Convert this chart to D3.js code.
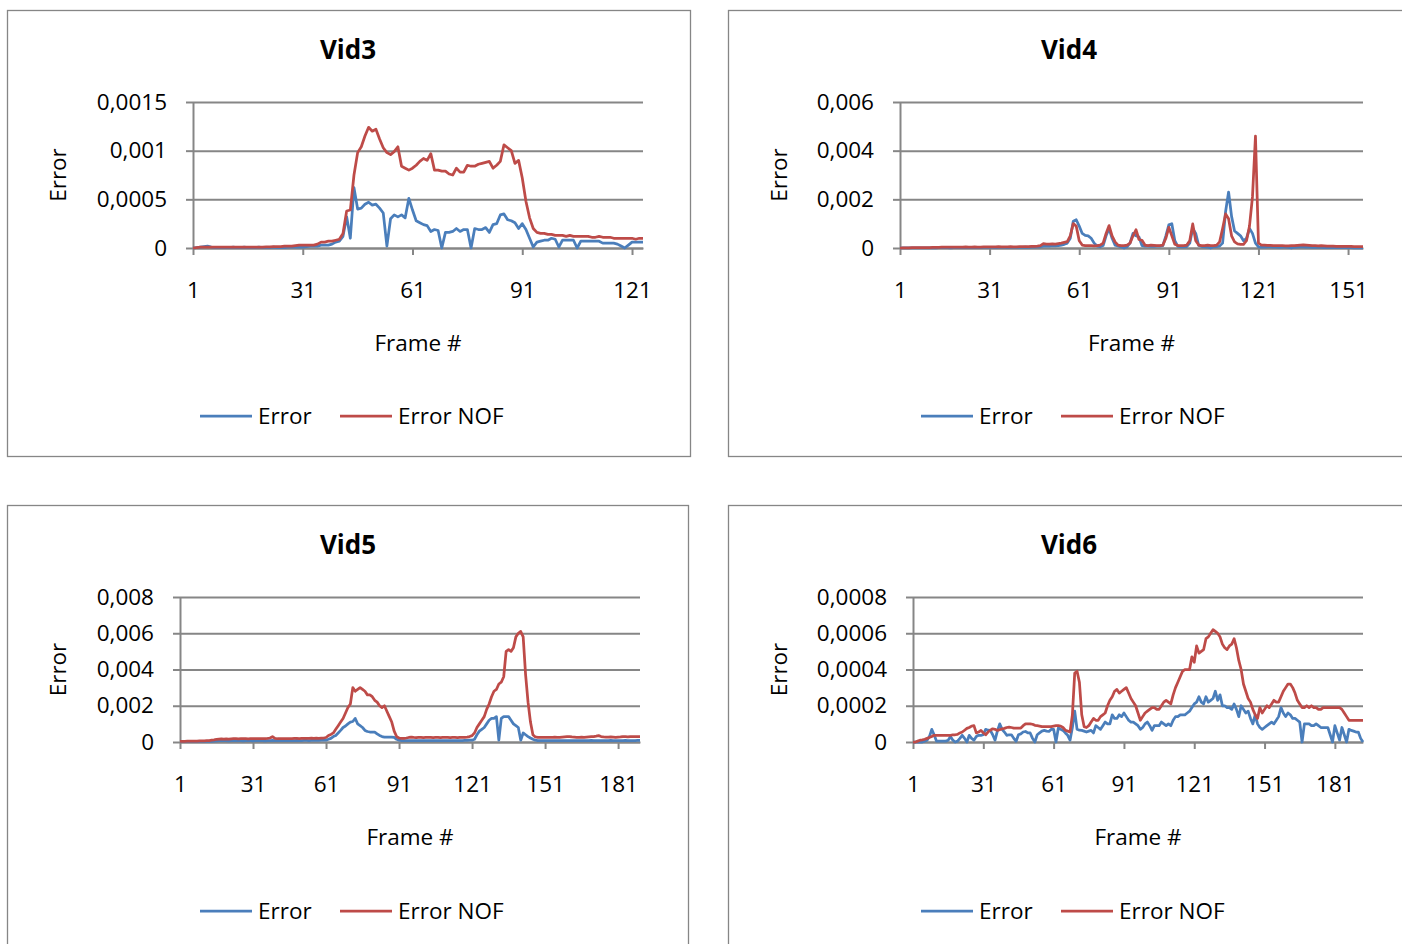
<!DOCTYPE html>
<html>
<head>
<meta charset="utf-8">
<script src="https://cdn.jsdelivr.net/npm/d3@7"></script>
<style>
  body { margin: 0; background: #fff; }
  text { font-family: "Open Sans", Calibri, Carlito, sans-serif; fill: #000; }
</style>
</head>
<body>
<svg id="chart" width="1402" height="944"></svg>
<script>
// ---- data ----
var vid3Error = [
  0, 0.000005, 0.00001, 0.000015, 0.00002, 0.00001, 0.000005, 0.000005, 0.000005, 0.000005,
  0.000005, 0.00001, 0.000005, 0.000005, 0.00001, 0.000005, 0.000005, 0.000005, 0.00001, 0.000005,
  0.000005, 0.000005, 0.00001, 0.000005, 0.000005, 0.000005, 0.00001, 0.00001, 0.00001, 0.00001,
  0.00001, 0.000015, 0.00002, 0.00002, 0.00002, 0.00003, 0.00003, 0.00003, 0.00004, 0.00006,
  0.00007, 0.00012, 0.00032, 0.0001, 0.00062, 0.0004, 0.00041, 0.00045, 0.00047, 0.00044,
  0.00045, 0.00041, 0.00036, 0.00002, 0.0003, 0.00034, 0.00032, 0.00034, 0.00031, 0.00051,
  0.00039, 0.00028, 0.00026, 0.00024, 0.00023, 0.00017, 0.00019, 0.00018, 0, 0.00016,
  0.00016, 0.00017, 0.0002, 0.00017, 0.00019, 0.00019, 0, 0.0002, 0.00019, 0.00019,
  0.00021, 0.00016, 0.00024, 0.00025, 0.00034, 0.00035, 0.00029, 0.00028, 0.00026, 0.0002,
  0.00025, 0.00019, 0.0001, 0.00001, 0.00006, 0.00007, 0.00008, 0.00008, 0.0001, 0.00009,
  0.00001, 0.00008, 0.00008, 0.00008, 0.00008, 0, 0.00007, 0.00007, 0.00007, 0.00007,
  0.00007, 0.00007, 0.00005, 0.00005, 0.00005, 0.00005, 0.00004, 0.00002, 0, 0.00003,
  0.00006, 0.00006, 0.00006, 0.00006
];
var vid3NOF = [
  0, 0.000005, 0.00001, 0.00001, 0.00001, 0.00001, 0.00001, 0.00001, 0.00001, 0.00001,
  0.00001, 0.00001, 0.00001, 0.00001, 0.00001, 0.00001, 0.00001, 0.00001, 0.00001, 0.00001,
  0.000012, 0.000012, 0.000015, 0.000015, 0.000015, 0.00002, 0.00002, 0.00002, 0.000025, 0.00003,
  0.00003, 0.00003, 0.00003, 0.00003, 0.00004, 0.00006, 0.00006, 0.00007, 0.00007, 0.00008,
  0.00009, 0.00015, 0.00038, 0.00039, 0.00075, 0.00098, 0.00104, 0.00115, 0.00124, 0.0012,
  0.00122, 0.00112, 0.00103, 0.00098, 0.00096, 0.00099, 0.00104, 0.00084, 0.00082, 0.0008,
  0.00082, 0.00085, 0.00089, 0.00092, 0.0009, 0.00097, 0.0008, 0.0008, 0.00079, 0.00079,
  0.00076, 0.00075, 0.00082, 0.00078, 0.00078, 0.00085, 0.00084, 0.00084, 0.00086, 0.00087,
  0.00088, 0.00089, 0.00082, 0.00085, 0.00089, 0.00106, 0.00103, 0.001, 0.00087, 0.0009,
  0.00072, 0.00048, 0.00031, 0.0002, 0.00016, 0.00015, 0.00015, 0.00014, 0.00014, 0.00013,
  0.00013, 0.00013, 0.00012, 0.00013, 0.00012, 0.00012, 0.00012, 0.00012, 0.00012, 0.00011,
  0.00011, 0.00012, 0.00011, 0.00011, 0.00011, 0.0001, 0.0001, 0.0001, 0.0001, 0.0001,
  0.0001, 0.00009, 0.0001, 0.0001
];

var vid4Error = [
  0, 0.00001, 0.00001, 0.00001, 0.00001, 0.00001, 0.00001, 0.00001, 0.00001, 0.00001,
  0.00001, 0.00002, 0.00001, 0.00002, 0.00002, 0.00002, 0.00002, 0.00001, 0.00002, 0.00002,
  0.00002, 0.00002, 0.00003, 0.00002, 0.00002, 0.00003, 0.00002, 0.00002, 0.00003, 0.00003,
  0.00003, 0.00003, 0.00002, 0.00003, 0.00003, 0.00003, 0.00002, 0.00003, 0.00003, 0.00003,
  0.00003, 0.00003, 0.00004, 0.00003, 0.00004, 0.00004, 0.00005, 0.00005, 0.00008, 0.00008,
  0.00008, 0.0001, 0.00009, 0.0001, 0.00012, 0.00015, 0.0002, 0.0004, 0.0011, 0.00116,
  0.0009, 0.0006, 0.00052, 0.0005, 0.0004, 0.0002, 0.00008, 0.00005, 0.0001, 0.0005,
  0.0008, 0.0004, 0.00012, 0.00008, 0.00004, 0, 0.00005, 0.0002, 0.0006, 0.0005,
  0.00045, 0.0001, 0.00008, 0.00008, 0.00007, 0.00007, 0.00008, 0.00008, 0.0001, 0.0005,
  0.00095, 0.001, 0.0003, 0.00007, 0.00005, 0.00005, 0.00006, 0.0002, 0.0008, 0.0006,
  0.0001, 0.00006, 0.00005, 0.00004, 0, 0.00005, 0.00006, 0.00008, 0.0002, 0.0015,
  0.0023, 0.0013, 0.0007, 0.0006, 0.0005, 0.0003, 0.0004, 0.0008, 0.0006, 0.0002,
  0.00005, 0.00004, 0.00004, 0.00005, 0.00005, 0.00004, 0.00004, 0.00003, 0.00004, 0.00004,
  0.00002, 0, 0.00003, 0.00004, 0.00005, 0.00005, 0.00004, 0.00004, 0.00003, 0.00003,
  0.00003, 0.00003, 0.00002, 0.00002, 0.00002, 0.00003, 0.00002, 0.00002, 0.00002, 0.00002,
  0.00002, 0.00002, 0.00001, 0.00001, 0.00001, 0.00001
];
var vid4NOF = [
  0, 0.00001, 0.00001, 0.00001, 0.00002, 0.00002, 0.00002, 0.00002, 0.00002, 0.00002,
  0.00002, 0.00003, 0.00003, 0.00003, 0.00004, 0.00004, 0.00004, 0.00004, 0.00004, 0.00004,
  0.00004, 0.00004, 0.00005, 0.00004, 0.00004, 0.00005, 0.00004, 0.00004, 0.00005, 0.00005,
  0.00005, 0.00005, 0.00005, 0.00006, 0.00005, 0.00005, 0.00005, 0.00006, 0.00005, 0.00005,
  0.00006, 0.00006, 0.00006, 0.00006, 0.00007, 0.00007, 0.00008, 0.0001, 0.00018, 0.00016,
  0.00016, 0.00017, 0.00016, 0.00018, 0.0002, 0.00023, 0.00026, 0.0005, 0.001, 0.0009,
  0.0003, 0.00012, 0.0001, 0.0001, 0.0001, 0.00009, 0.0001, 0.00012, 0.0002, 0.0006,
  0.00092, 0.0005, 0.00025, 0.00012, 0.0001, 0.0001, 0.00012, 0.0002, 0.0005, 0.00075,
  0.00035, 0.00032, 0.00012, 0.0001, 0.00012, 0.00011, 0.0001, 0.0001, 0.00012, 0.0004,
  0.00085, 0.0005, 0.00015, 0.0001, 0.0001, 0.0001, 0.00012, 0.0003, 0.00099, 0.0003,
  0.00012, 0.0001, 0.0001, 0.00012, 0.0001, 0.0001, 0.00012, 0.00025, 0.0008, 0.0014,
  0.0012, 0.0005, 0.00025, 0.00017, 0.00015, 0.00015, 0.0003, 0.0009, 0.0021, 0.0046,
  0.0002, 0.00012, 0.00012, 0.00011, 0.00011, 0.0001, 0.0001, 0.0001, 0.0001, 0.00009,
  0.00009, 0.0001, 0.0001, 0.00011, 0.00012, 0.00013, 0.00012, 0.00011, 0.0001, 0.0001,
  0.00009, 0.0001, 0.00009, 0.00008, 0.00008, 0.00008, 0.00007, 0.00007, 0.00007, 0.00007,
  0.00007, 0.00007, 0.00006, 0.00006, 0.00006, 0.00006
];

var vid5Error = [
  0.00002, 0.00002, 0.00003, 0.00003, 0.00003, 0.00003, 0.00003, 0.00003, 0.00003, 0.00003,
  0.00003, 0.00003, 0.00003, 0.00004, 0.00005, 0.00006, 0.00007, 0.00007, 0.00007, 0.00007,
  0.00006, 0.00007, 0.00007, 0.00008, 0.00007, 0.00007, 0.00006, 0.00007, 0.00007, 0.00007,
  0.00006, 0.00007, 0.00007, 0.00008, 0.00007, 0.00006, 0.00007, 0.00008, 0.00009, 0.00008,
  0.00007, 0.00008, 0.00008, 0.00009, 0.00008, 0.00007, 0.00008, 0.00008, 0.00009, 0.00008,
  0.00008, 0.00009, 0.00009, 0.00008, 0.00009, 0.0001, 0.00009, 0.00009, 0.0001, 0.0001,
  0.0001, 0.00015, 0.0002, 0.0003, 0.00036, 0.0005, 0.00064, 0.0008, 0.00088, 0.001,
  0.0011, 0.00113, 0.0013, 0.001, 0.0009, 0.0008, 0.00064, 0.00058, 0.00055, 0.00055,
  0.00055, 0.00045, 0.00036, 0.0003, 0.00027, 0.00027, 0.00027, 0.00027, 0.00025, 0.00015,
  0.0001, 0.00008, 0.00008, 0.00007, 0.00008, 0.00007, 0.00008, 0.00008, 0.00007, 0.00008,
  0.00008, 0.00007, 0.00008, 0.00008, 0.00007, 0.00007, 0.00008, 0.00008, 0.00007, 0.00008,
  0.00008, 0.00007, 0.00008, 0.00008, 0.00007, 0.00008, 0.00008, 0.00009, 0.00009, 0.0001,
  0.0001, 0.00015, 0.0004, 0.0006, 0.0007, 0.0008, 0.001, 0.0012, 0.0013, 0.0013,
  0.0014, 0.0001, 0.0013, 0.0014, 0.0014, 0.0014, 0.0012, 0.001, 0.0009, 0.0008,
  0.0001, 0.0005, 0.0004, 0.0003, 0.00022, 0.00015, 0.0001, 0.00008, 0.00008, 0.00007,
  0.00007, 0.00008, 0.00008, 0.00007, 0.00008, 0.00008, 0.00007, 0.00008, 0.00008, 0.00007,
  0.00007, 0.00008, 0.00008, 0.00007, 0.00008, 0.00008, 0.00007, 0.00008, 0.00008, 0.00009,
  0.00008, 0.00007, 0.00008, 0.00008, 0.00007, 0.00008, 0.00008, 0.00009, 0.00008, 0.00008,
  0.00007, 0.00008, 0.00008, 0.00009, 0.00008, 0.00008, 0.00007, 0.00008, 0.00009, 0.00009
];
var vid5NOF = [
  0.00003, 0.00004, 0.00004, 0.00005, 0.00005, 0.00005, 0.00005, 0.00005, 0.00006, 0.00006,
  0.00006, 0.00007, 0.00008, 0.0001, 0.00012, 0.00015, 0.00016, 0.00017, 0.00016, 0.00017,
  0.00016, 0.00017, 0.00018, 0.00018, 0.00017, 0.00018, 0.00018, 0.00018, 0.00017, 0.00018,
  0.00018, 0.00018, 0.00019, 0.00018, 0.00019, 0.00019, 0.0002, 0.00022, 0.0003, 0.0002,
  0.00018, 0.00018, 0.00018, 0.00019, 0.00018, 0.00019, 0.00019, 0.0002, 0.0002, 0.00019,
  0.0002, 0.0002, 0.0002, 0.0002, 0.00021, 0.0002, 0.00021, 0.0002, 0.00021, 0.00022,
  0.00025, 0.00036, 0.00042, 0.0005, 0.0007, 0.0009, 0.0011, 0.0013, 0.0016, 0.0019,
  0.0021, 0.003, 0.0028, 0.0029, 0.003, 0.0029, 0.0028, 0.0026, 0.0026, 0.0025,
  0.0023, 0.0022, 0.002, 0.0019, 0.002, 0.0017, 0.0014, 0.0011, 0.0006, 0.0003,
  0.00022, 0.0002, 0.0002, 0.00022, 0.00025, 0.00027, 0.00025, 0.00024, 0.00025, 0.00025,
  0.00024, 0.00025, 0.00026, 0.00025, 0.00024, 0.00025, 0.00025, 0.00024, 0.00025, 0.00026,
  0.00025, 0.00024, 0.00025, 0.00025, 0.00024, 0.00025, 0.00026, 0.00026, 0.00027, 0.0003,
  0.00035, 0.0005, 0.0008, 0.001, 0.0012, 0.0014, 0.0018, 0.0021, 0.0025, 0.0028,
  0.0029, 0.0032, 0.0033, 0.0036, 0.005, 0.0051, 0.005, 0.0052, 0.0058, 0.006,
  0.0061, 0.0058, 0.0037, 0.0022, 0.0011, 0.0004, 0.00028, 0.00026, 0.00026, 0.00025,
  0.00026, 0.00026, 0.00025, 0.00026, 0.00027, 0.00026, 0.00026, 0.00027, 0.00028, 0.00029,
  0.0003, 0.00028, 0.00027, 0.00026, 0.00026, 0.00027, 0.00026, 0.00027, 0.00028, 0.00029,
  0.0003, 0.00032, 0.00035, 0.0003, 0.00028, 0.00027, 0.00027, 0.00028, 0.00027, 0.00026,
  0.00027, 0.00028, 0.0003, 0.00029, 0.00028, 0.0003, 0.00029, 0.0003, 0.0003, 0.0003
];

var vid6Error = [
  0, 0, 0, 0, 0, 0.000005, 0.00001, 0.00003, 0.00007, 0.00004,
  0.000005, 0.000005, 0.000005, 0.000005, 0.000005, 0.00001, 0.00003, 0.00001, 0, 0.000005,
  0.00002, 0.000037, 0.00002, 0, 0.000037, 0.00002, 0.00001, 0.00003, 0.000037, 0.000037,
  0.00004, 0.00007, 0.000065, 0.000064, 0.00004, 0.00001, 0.00006, 0.0001, 0.00007, 0.000055,
  0.000037, 0.00004, 0.00004, 0.00002, 0.000004, 0.00004, 0.000045, 0.000055, 0.000058, 0.00005,
  0.00005, 0.00002, 0, 0.00004, 0.00005, 0.00006, 0.000064, 0.00006, 0.000058, 0.00007,
  0.00007, 0, 0.000077, 0.00007, 0.000064, 0.00005, 0.000037, 0.00001, 0.00008, 0.00017,
  0.00007, 0.000065, 0.000064, 0.00006, 0.000055, 0.00006, 0.000064, 0.00005, 0.00009, 0.00008,
  0.00007, 0.00009, 0.00011, 0.0001, 0.0001, 0.00015, 0.00013, 0.00013, 0.00015, 0.00014,
  0.00016, 0.00014, 0.00012, 0.00011, 0.00011, 0.0001, 0.00009, 0.00007, 0.00008, 0.0001,
  0.00011, 0.00009, 0.000064, 0.00009, 0.00009, 0.00009, 0.00011, 0.0001, 0.00009, 0.0001,
  0.00009, 0.00012, 0.00014, 0.00014, 0.00015, 0.00015, 0.00015, 0.00016, 0.00017, 0.00019,
  0.00021, 0.00022, 0.00025, 0.00022, 0.00021, 0.00025, 0.00022, 0.00023, 0.00024, 0.00028,
  0.00023, 0.00026, 0.0002, 0.0002, 0.00019, 0.00019, 0.00018, 0.00021, 0.00018, 0.00014,
  0.0002, 0.00018, 0.00016, 0.00017, 0.00013, 0.0001, 0.00015, 0.0001, 0.00008, 0.00007,
  0.00008, 0.00009, 0.0001, 0.00011, 0.0001, 0.00012, 0.00014, 0.00019, 0.00016, 0.00014,
  0.00016, 0.00015, 0.00013, 0.00013, 0.00012, 0.00011, 0, 0.0001, 0.0001, 0.0001,
  0.00009, 0.00009, 0.0001, 0.00009, 0.00008, 0.00008, 0.00008, 0.00008, 0.00004, 0,
  0.00009, 0.00005, 0.00001, 0.00008, 0.00004, 0, 0.00007, 0.000064, 0.00006, 0.000055,
  0.000055, 0.00002, 0
];
var vid6NOF = [
  0, 0, 0.000005, 0.00001, 0.000012, 0.000015, 0.00002, 0.000025, 0.00003, 0.000037,
  0.000037, 0.000037, 0.000037, 0.000037, 0.000037, 0.000037, 0.000037, 0.00004, 0.00004, 0.000042,
  0.00005, 0.000055, 0.000065, 0.000075, 0.00008, 0.000088, 0.00009, 0.00005, 0.000055, 0.000064,
  0.00005, 0.00004, 0.000055, 0.000065, 0.000073, 0.00007, 0.000064, 0.000068, 0.000073, 0.000075,
  0.00008, 0.000082, 0.00008, 0.000077, 0.000077, 0.000077, 0.000077, 0.00009, 0.0001, 0.0001,
  0.0001, 0.000098, 0.000092, 0.00009, 0.000088, 0.000085, 0.000085, 0.000085, 0.000085, 0.000085,
  0.000088, 0.00009, 0.00009, 0.000088, 0.00008, 0.000065, 0.00006, 0.000055, 0.00015, 0.00038,
  0.00039, 0.00033, 0.00015, 0.000085, 0.00008, 0.00009, 0.00011, 0.00013, 0.00012, 0.00012,
  0.00014, 0.00015, 0.00016, 0.0002, 0.00023, 0.00025, 0.00028, 0.00029, 0.00027, 0.00028,
  0.00029, 0.0003, 0.00027, 0.00024, 0.00022, 0.0002, 0.00016, 0.00012, 0.00014, 0.00016,
  0.00017, 0.00018, 0.00019, 0.00019, 0.00018, 0.00018, 0.0002, 0.00022, 0.00023, 0.00022,
  0.00021, 0.00026, 0.0003, 0.00033, 0.00036, 0.00039, 0.0004, 0.0004, 0.0004, 0.00047,
  0.00044, 0.00053, 0.00049, 0.0005, 0.00051, 0.00057, 0.00058, 0.0006, 0.00062, 0.00061,
  0.0006, 0.00058, 0.00054, 0.00052, 0.00051, 0.00053, 0.00054, 0.00057, 0.00052, 0.00045,
  0.0004, 0.00032, 0.00028, 0.00024, 0.00022, 0.00018, 0.00015, 0.00013, 0.00019, 0.00016,
  0.00018, 0.0002, 0.00019, 0.00021, 0.00023, 0.00022, 0.00022, 0.00025, 0.00028, 0.0003,
  0.00032, 0.00032, 0.0003, 0.00027, 0.00023, 0.00021, 0.00019, 0.00019, 0.0002, 0.00019,
  0.0002, 0.00019, 0.00019, 0.00018, 0.00018, 0.00019, 0.00019, 0.00019, 0.00019, 0.00019,
  0.00019, 0.00019, 0.00019, 0.00018, 0.00016, 0.00014, 0.00012, 0.00012, 0.00012, 0.00012,
  0.00012, 0.00012, 0.00012
];

var vid3YTicks = [0, 0.0005, 0.001, 0.0015];
var vid3YLabels = ["0", "0,0005", "0,001", "0,0015"];
var vid4YTicks = [0, 0.002, 0.004, 0.006];
var vid4YLabels = ["0", "0,002", "0,004", "0,006"];
var vid5YTicks = [0, 0.002, 0.004, 0.006, 0.008];
var vid5YLabels = ["0", "0,002", "0,004", "0,006", "0,008"];
var vid6YTicks = [0, 0.0002, 0.0004, 0.0006, 0.0008];
var vid6YLabels = ["0", "0,0002", "0,0004", "0,0006", "0,0008"];
var vid3XTicks = [1, 31, 61, 91, 121];
var vid4XTicks = [1, 31, 61, 91, 121, 151];
var vid56XTicks = [1, 31, 61, 91, 121, 151, 181];
var seriesNames = ["Error", "Error NOF"];

// ---- layout ----
var errColor = "#4a7ebb";
var nofColor = "#be4b48";
var gridColor = "#868686";
var fontSize = "22.5px";

var panels = [
  {title: "Vid3", left: 7, top: 10, w: 683, h: 446, x0: 193, x1: 643, yTop: 102, yBot: 248,
   err: vid3Error, nof: vid3NOF, yTicks: vid3YTicks, yLabels: vid3YLabels, xTicks: vid3XTicks},
  {title: "Vid4", left: 728, top: 10, w: 683, h: 446, x0: 900, x1: 1363, yTop: 102, yBot: 248,
   err: vid4Error, nof: vid4NOF, yTicks: vid4YTicks, yLabels: vid4YLabels, xTicks: vid4XTicks},
  {title: "Vid5", left: 7, top: 505, w: 681, h: 446, x0: 180, x1: 640, yTop: 597, yBot: 742,
   err: vid5Error, nof: vid5NOF, yTicks: vid5YTicks, yLabels: vid5YLabels, xTicks: vid56XTicks},
  {title: "Vid6", left: 728, top: 505, w: 683, h: 446, x0: 913, x1: 1363, yTop: 597, yBot: 742,
   err: vid6Error, nof: vid6NOF, yTicks: vid6YTicks, yLabels: vid6YLabels, xTicks: vid56XTicks}
];

var svg = d3.select("#chart");
svg.append("rect").attr("width", 1402).attr("height", 944).attr("fill", "#fff");

panels.forEach(function(p) {
  var g = svg.append("g");

  g.append("rect")
    .attr("x", p.left + 0.5).attr("y", p.top + 0.5)
    .attr("width", p.w).attr("height", p.h)
    .attr("fill", "#fff")
    .attr("stroke", gridColor)
    .attr("stroke-width", 1.3);

  var n = p.err.length;
  var x = d3.scaleLinear().domain([1, n]).range([p.x0, p.x1]);
  var y = d3.scaleLinear().domain([0, p.yTicks[p.yTicks.length - 1]]).range([p.yBot, p.yTop]);

  // gridlines
  var grid = g.append("g")
    .attr("transform", "translate(" + p.x0 + ",0)")
    .call(d3.axisLeft(y).tickValues(p.yTicks).tickSize(-(p.x1 - p.x0)).tickFormat(""));
  grid.select(".domain").remove();
  grid.selectAll("line").attr("stroke", gridColor).attr("stroke-width", 2);

  // y axis
  var ya = g.append("g")
    .attr("transform", "translate(" + p.x0 + ",0)")
    .call(d3.axisLeft(y).tickValues(p.yTicks).tickSize(7).tickSizeOuter(0).tickPadding(19)
      .tickFormat(function(d, i) { return p.yLabels[i]; }));
  ya.select(".domain").attr("stroke", gridColor).attr("stroke-width", 2);
  ya.selectAll("line").attr("stroke", gridColor).attr("stroke-width", 2);
  ya.selectAll("text").style("font-size", fontSize).attr("fill", "#000");

  // x axis
  var xa = g.append("g")
    .attr("transform", "translate(0," + p.yBot + ")")
    .call(d3.axisBottom(x).tickValues(p.xTicks).tickSize(7).tickSizeOuter(0).tickPadding(27));
  xa.select(".domain").attr("stroke", gridColor).attr("stroke-width", 2);
  xa.selectAll("line").attr("stroke", gridColor).attr("stroke-width", 2);
  xa.selectAll("text").style("font-size", fontSize).attr("fill", "#000");

  // series
  var line = d3.line()
    .x(function(d, i) { return x(i + 1); })
    .y(function(d) { return y(d); });

  g.append("path").datum(p.err)
    .attr("d", line).attr("fill", "none")
    .attr("stroke", errColor).attr("stroke-width", 2.75)
    .attr("stroke-linejoin", "round");
  g.append("path").datum(p.nof)
    .attr("d", line).attr("fill", "none")
    .attr("stroke", nofColor).attr("stroke-width", 2.75)
    .attr("stroke-linejoin", "round");

  // titles
  g.append("text")
    .attr("x", p.left + 341).attr("y", p.top + 40)
    .attr("text-anchor", "middle").attr("dy", "0.35em")
    .style("font-size", "26px").style("font-weight", "bold")
    .text(p.title);

  g.append("text")
    .attr("x", (p.x0 + p.x1) / 2).attr("y", p.yBot + 95)
    .attr("text-anchor", "middle").attr("dy", "0.35em")
    .style("font-size", fontSize)
    .text("Frame #");

  g.append("text")
    .attr("transform", "translate(" + (p.left + 51) + "," + ((p.yTop + p.yBot) / 2) + ") rotate(-90)")
    .attr("text-anchor", "middle").attr("dy", "0.35em")
    .style("font-size", fontSize)
    .text("Error");

  // legend
  var ly = p.top + 406;
  var lx = p.left + 193;
  var colors = [errColor, nofColor];
  var offs = [0, 140];
  seriesNames.forEach(function(name, i) {
    g.append("line")
      .attr("x1", lx + offs[i]).attr("x2", lx + offs[i] + 52)
      .attr("y1", ly).attr("y2", ly)
      .attr("stroke", colors[i]).attr("stroke-width", 2.75);
    g.append("text")
      .attr("x", lx + offs[i] + 58).attr("y", ly)
      .attr("dy", "0.35em")
      .style("font-size", fontSize)
      .text(name);
  });
});
</script>
</body>
</html>
